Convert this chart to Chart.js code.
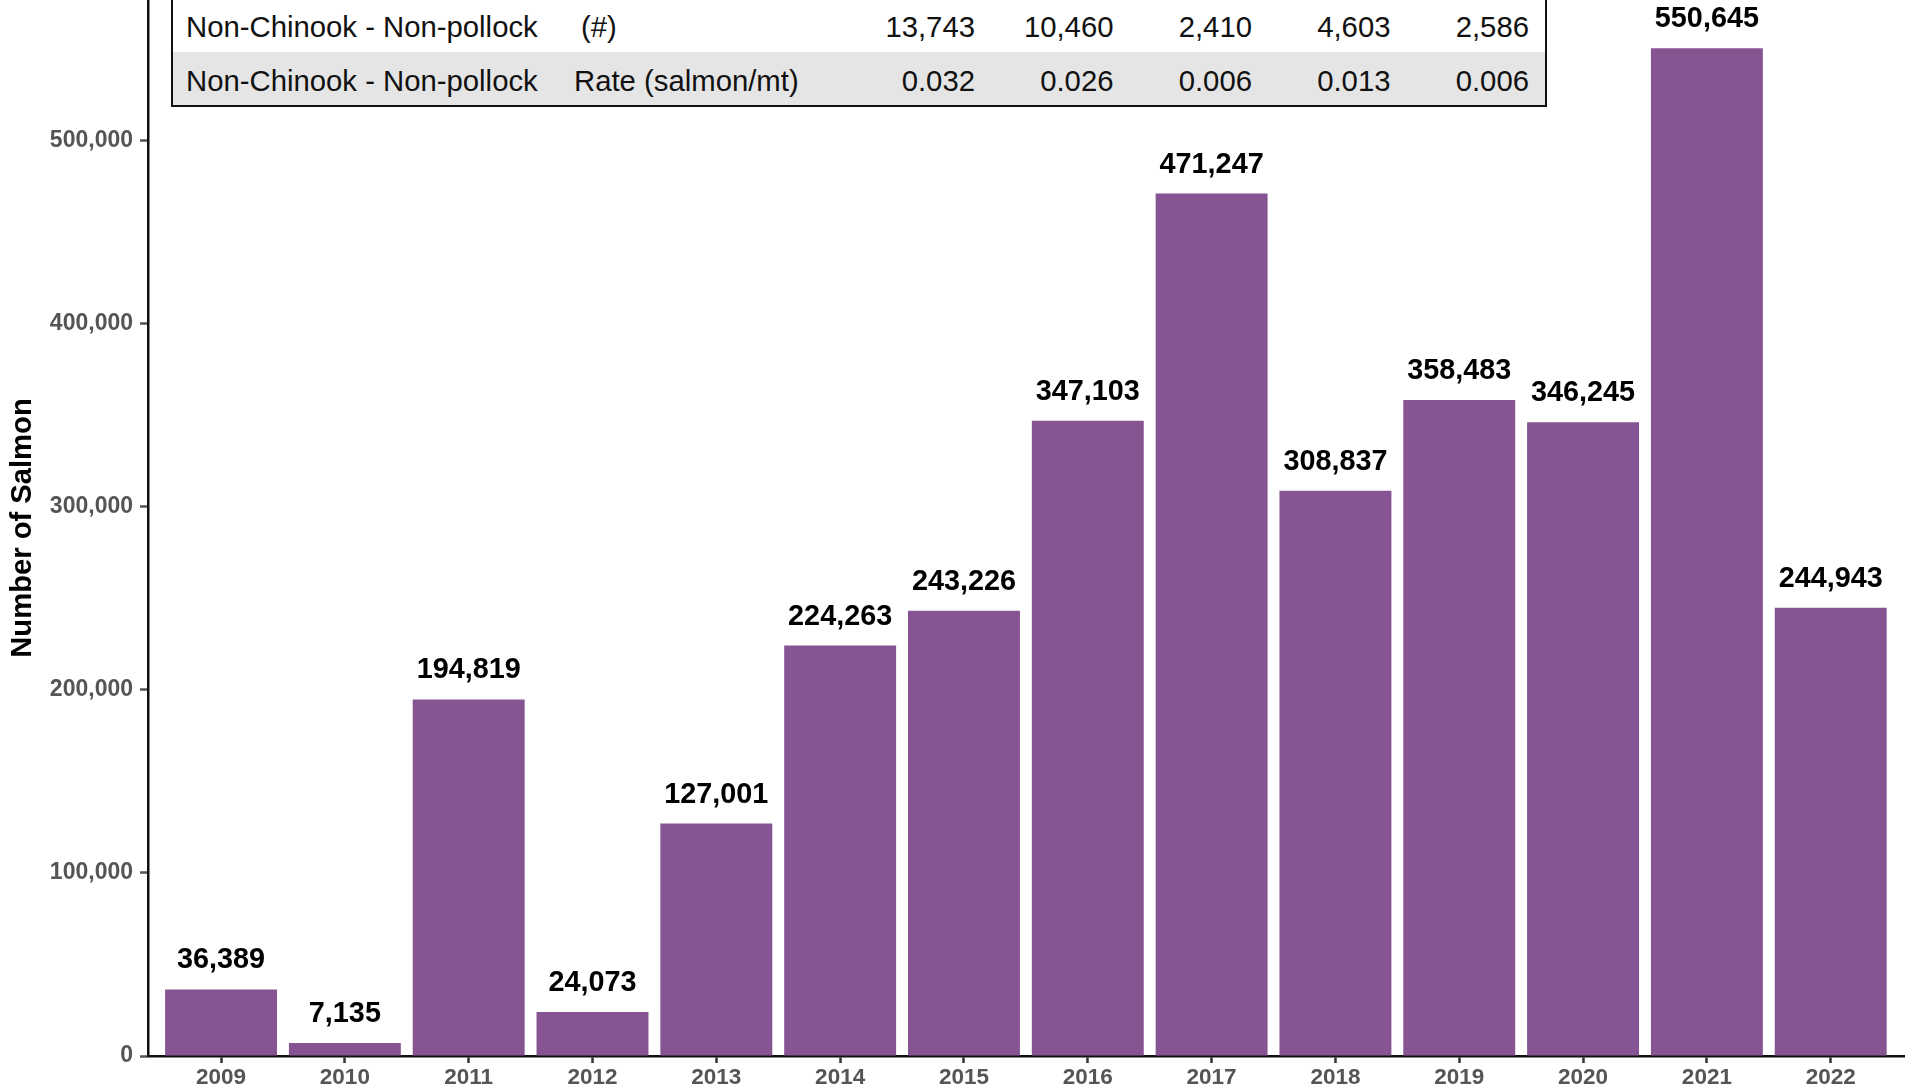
<!DOCTYPE html>
<html>
<head>
<meta charset="utf-8">
<title>Number of Salmon</title>
<script src="https://cdn.jsdelivr.net/npm/chart.js@4.4.1/dist/chart.umd.min.js"></script>
<style>
    html, body { margin: 0; padding: 0; background: #fff; overflow: hidden; }
    #contenedor { position: relative; width: 1905px; height: 1091px; }
    #tabla {
        position: absolute; left: 171px; top: -4px; width: 1376px;
        border: 2px solid #111; border-collapse: separate; border-spacing: 0;
        table-layout: fixed; background: #fff;
        font-family: "Liberation Sans", Arial, sans-serif; font-size: 29.3px; color: #111;
    }
    #tabla td { padding: 12px 0 0 0; vertical-align: top; line-height: 33px; white-space: nowrap; overflow: hidden; }
    #tabla tr.f1 td { height: 42px; }
    #tabla tr.f2 td { height: 41px; background: #e5e5e5; }
    #tabla td.c1 { padding-left: 13px; }
    #tabla td.num { text-align: right; padding-right: 16px; }
</style>
</head>
<body>
<div id="contenedor">
    <canvas id="myChart" width="1905" height="1091"></canvas>
    <table id="tabla">
        <colgroup>
            <col style="width:397px"><col style="width:282.5px">
            <col style="width:138.5px"><col style="width:138.5px"><col style="width:138.5px"><col style="width:138.5px"><col style="width:138.5px">
        </colgroup>
        <tbody></tbody>
    </table>
</div>
<script>
// datos de la grafica
const anios = [2009, 2010, 2011, 2012, 2013, 2014, 2015, 2016, 2017, 2018, 2019, 2020, 2021, 2022];
const salmones = [36389, 7135, 194819, 24073, 127001, 224263, 243226, 347103, 471247, 308837, 358483, 346245, 550645, 244943];
const ticksY = [0, 100000, 200000, 300000, 400000, 500000];

// datos de la tabla de arriba
const filaConteoNombre = ['Non-Chinook - Non-pollock', '(#)'];
const filaConteo = ['13,743', '10,460', '2,410', '4,603', '2,586'];
const filaTasaNombre = ['Non-Chinook - Non-pollock', 'Rate (salmon/mt)'];
const filaTasa = ['0.032', '0.026', '0.006', '0.013', '0.006'];

const fuente = '"Liberation Sans", Arial, sans-serif';

// llenamos la tabla
const llenarFila = (clase, nombres, valores, sangria) => {
    const tr = document.createElement('tr');
    tr.className = clase;
    const c1 = document.createElement('td');
    c1.className = 'c1';
    c1.textContent = nombres[0];
    const c2 = document.createElement('td');
    c2.textContent = nombres[1];
    c2.style.paddingLeft = sangria + 'px';
    tr.appendChild(c1);
    tr.appendChild(c2);
    valores.forEach(v => {
        const td = document.createElement('td');
        td.className = 'num';
        td.textContent = v;
        tr.appendChild(td);
    });
    document.querySelector('#tabla tbody').appendChild(tr);
};
llenarFila('f1', filaConteoNombre, filaConteo, 11);
llenarFila('f2', filaTasaNombre, filaTasa, 4);

// plugin para poner el numero arriba de cada barra
const etiquetasBarras = {
    id: 'etiquetasBarras',
    afterDatasetsDraw(chart) {
        const ctx = chart.ctx;
        const meta = chart.getDatasetMeta(0);
        ctx.save();
        ctx.font = 'bold 28.8px ' + fuente;
        ctx.fillStyle = '#000';
        ctx.textAlign = 'center';
        ctx.textBaseline = 'alphabetic';
        meta.data.forEach((barra, i) => {
            ctx.fillText(salmones[i].toLocaleString('en-US'), barra.x, barra.y - 21);
        });
        ctx.restore();
    }
};

const data = {
    datasets: [{
        label: 'Number of Salmon',
        data: anios.map((a, i) => ({ x: a, y: salmones[i] })),
        backgroundColor: '#875493',
        borderWidth: 0,
        barPercentage: 0.904,
        categoryPercentage: 1
    }]
};

const config = {
    type: 'bar',
    data: data,
    plugins: [etiquetasBarras],
    options: {
        responsive: false,
        animation: false,
        layout: { padding: 0 },
        plugins: {
            legend: { display: false },
            tooltip: { enabled: false }
        },
        scales: {
            x: {
                type: 'linear',
                min: 2008.41,
                max: 2022.6,
                offset: false,
                z: 1,
                afterBuildTicks: (eje) => { eje.ticks = anios.map(v => ({ value: v })); },
                afterFit: (eje) => { eje.height = 35; eje.paddingLeft = 0; eje.paddingRight = 0; },
                grid: { offset: false, drawOnChartArea: false, drawTicks: true, tickLength: 7, tickWidth: 2.5, tickColor: '#333' },
                border: { display: true, color: '#111', width: 2.5 },
                ticks: {
                    autoSkip: false, maxRotation: 0, padding: 1.5, color: '#555',
                    font: { family: fuente, size: 22.5, weight: 'bold' },
                    callback: (v) => String(v)
                }
            },
            y: {
                min: 0,
                max: 577000,
                afterBuildTicks: (eje) => { eje.ticks = ticksY.map(v => ({ value: v })); },
                afterFit: (eje) => { eje.width = 148; eje.paddingTop = 0; eje.paddingBottom = 0; },
                grid: { drawOnChartArea: false, drawTicks: true, tickLength: 8, tickWidth: 2.5, tickColor: '#555' },
                border: { display: true, color: '#111', width: 2.5 },
                ticks: {
                    padding: 7, color: '#555',
                    font: { family: fuente, size: 23, weight: 'bold' },
                    callback: (v) => v.toLocaleString('en-US')
                },
                title: {
                    display: true,
                    text: 'Number of Salmon',
                    color: '#000',
                    font: { family: fuente, size: 29.2, weight: 'bold' },
                    padding: { top: 5, bottom: 0 }
                }
            }
        }
    }
};

const ctx = document.getElementById('myChart');
const myChart = new Chart(ctx, config);
</script>
</body>
</html>
